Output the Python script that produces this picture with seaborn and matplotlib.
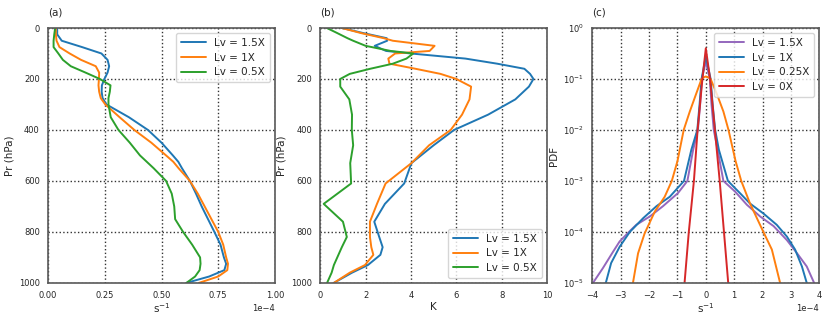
import numpy as np
import pandas as pd
import matplotlib
matplotlib.use("Agg")
import matplotlib.pyplot as plt
import seaborn as sns

# ---- panel (a): profiles (units of 1e-4 s^-1) ----
pres_a = [0, 25, 50, 75, 100, 125, 150, 175, 200, 225, 250, 275, 300, 350, 400,
          450, 500, 525, 550, 600, 650, 700, 750, 800, 850, 900, 925, 950, 975, 1000]
a_15 = [0.04, 0.04, 0.06, 0.15, 0.235, 0.262, 0.269, 0.262, 0.248, 0.237, 0.236, 0.24, 0.257,
        0.356, 0.44, 0.50, 0.55, 0.574, 0.59, 0.625, 0.652, 0.677, 0.705, 0.733, 0.76, 0.775,
        0.785, 0.777, 0.71, 0.61]
a_10 = [0.034, 0.034, 0.037, 0.05, 0.095, 0.145, 0.21, 0.225, 0.224, 0.222, 0.225, 0.232, 0.252,
        0.315, 0.38, 0.455, 0.52, 0.552, 0.575, 0.625, 0.66, 0.69, 0.72, 0.75, 0.772, 0.785,
        0.793, 0.79, 0.75, 0.665]
a_05 = [0.031, 0.027, 0.024, 0.024, 0.045, 0.065, 0.10, 0.165, 0.228, 0.275, 0.272, 0.266, 0.266,
        0.276, 0.31, 0.36, 0.405, 0.435, 0.465, 0.52, 0.545, 0.556, 0.56, 0.595, 0.635, 0.67,
        0.672, 0.668, 0.648, 0.61]

# ---- panel (b): profiles (K) ----
pres_b = [0, 20, 40, 50, 70, 90, 100, 120, 140, 160, 180, 200, 230, 280, 340, 400, 460,
          530, 610, 690, 760, 820, 860, 890, 930, 960, 1000]
b_15 = [0.95, 1.9, 2.93, 2.95, 2.4, 2.9, 4.0, 6.4, 7.8, 9.0, 9.25, 9.4, 9.2, 8.6, 7.4, 5.9, 5.0,
        4.02, 3.7, 2.85, 2.38, 2.6, 2.75, 2.65, 2.1, 1.4, 0.6]
b_10 = [0.95, 1.8, 2.8, 3.2, 5.04, 4.82, 3.3, 3.0, 3.05, 4.2, 5.3, 6.0, 6.65, 6.58, 6.25, 5.75,
        4.8, 4.02, 2.88, 2.5, 2.19, 2.19, 2.25, 2.34, 1.97, 1.3, 0.6]
b_05 = [0.29, 0.75, 1.2, 1.45, 2.0, 3.1, 4.1, 3.8, 3.2, 2.2, 1.3, 0.88, 0.88, 1.28, 1.4, 1.39,
        1.45, 1.32, 1.36, 0.15, 1.0, 1.17, 0.95, 0.8, 0.6, 0.5, 0.3]

# ---- panel (c): PDFs (x in units of 1e-4 s^-1) ----
c15_x = [-3.98, -3.63, -3.27, -3.04, -2.71, -2.45, -1.98, -1.51, -0.98, -0.65, -0.45, -0.28, -0.2,
         -0.14, 0.0, 0.14, 0.2, 0.28, 0.42, 0.62, 1.03, 1.45, 1.92, 2.39, 2.86, 3.22, 3.56, 3.82]
c15_y = [1e-5, 1.95e-5, 4.1e-5, 6.5e-5, 1e-4, 1.38e-4, 2e-4, 3.2e-4, 5.8e-4, 1e-3, 4e-3, 1e-2,
         3.2e-2, 0.1, 0.22, 0.1, 3.2e-2, 1e-2, 4e-3, 1e-3, 6.2e-4, 3.4e-4, 2e-4, 1.3e-4,
         6.9e-5, 3.8e-5, 2.1e-5, 1e-5]
c10_x = [-3.55, -3.34, -3.04, -2.68, -2.21, -1.74, -1.27, -0.77, -0.51, -0.3, -0.22, -0.15, 0.0,
         0.17, 0.24, 0.33, 0.46, 0.78, 1.2, 1.56, 2.03, 2.5, 2.86, 3.15, 3.39, 3.56]
c10_y = [9e-6, 2.45e-5, 5.1e-5, 1e-4, 1.86e-4, 3.2e-4, 4.9e-4, 1e-3, 4.1e-3, 1e-2, 3.2e-2, 0.1,
         0.28, 0.1, 3.2e-2, 1e-2, 4.1e-3, 1e-3, 5.8e-4, 3.6e-4, 2.3e-4, 1.38e-4, 8.1e-5,
         4.5e-5, 2.1e-5, 1e-5]
c025_x = [-2.57, -2.39, -2.16, -1.8, -1.45, -1.2, -1.0, -0.78, -0.565, -0.353, -0.15, -0.07, 0.0,
          0.08, 0.17, 0.4, 0.62, 0.8, 1.05, 1.25, 1.56, 2.03, 2.33, 2.62]
c025_y = [1e-5, 3.8e-5, 9.3e-5, 2.5e-4, 4.9e-4, 1e-3, 2.45e-3, 1e-2, 2.3e-2, 4.9e-2, 0.1, 0.108,
          0.112, 0.108, 0.1, 4.9e-2, 2.3e-2, 1e-2, 2.45e-3, 1e-3, 3.6e-4, 1e-4, 4.5e-5, 1e-5]
c0_x = [-0.75, -0.6, -0.42, -0.29, -0.12, 0.0, 0.15, 0.32, 0.49, 0.64, 0.79]
c0_y = [1e-5, 1e-4, 1e-3, 1e-2, 0.1, 0.4, 0.1, 1e-2, 1e-3, 1e-4, 1e-5]

labels_ab = ["Lv = 1.5X", "Lv = 1X", "Lv = 0.5X"]
labels_c = ["Lv = 1.5X", "Lv = 1X", "Lv = 0.25X", "Lv = 0X"]
tab = sns.color_palette("tab10")
blue, orange, green, red, purple = tab[0], tab[1], tab[2], tab[3], tab[4]

df_a = pd.concat([pd.DataFrame({"x": np.array(v) * 1e-4, "p": pres_a, "case": l})
                  for v, l in zip([a_15, a_10, a_05], labels_ab)])
df_b = pd.concat([pd.DataFrame({"x": v, "p": pres_b, "case": l})
                  for v, l in zip([b_15, b_10, b_05], labels_ab)])
df_c = pd.concat([pd.DataFrame({"x": np.array(xs) * 1e-4, "pdf": ys, "case": l})
                  for xs, ys, l in zip([c15_x, c10_x, c025_x, c0_x],
                                       [c15_y, c10_y, c025_y, c0_y], labels_c)])

sns.set_style("white", {"axes.edgecolor": "0.35", "grid.color": "0.2", "grid.linestyle": ":",
                        "axes.grid": True, "text.color": "0.15", "axes.labelcolor": "0.15",
                        "xtick.color": "0.15", "ytick.color": "0.15"})
plt.rcParams["font.family"] = ["DejaVu Sans"]
plt.rcParams["grid.linewidth"] = 1.0

LEG = dict(fontsize=7.5, handlelength=2.4, borderpad=0.45, labelspacing=0.45, edgecolor="0.8")

fig, axes = plt.subplots(1, 3, figsize=(8.3, 3.2), dpi=100)
fig.subplots_adjust(left=0.058, right=0.987, bottom=0.116, top=0.9125, wspace=0.2)

ax = axes[0]
sns.lineplot(data=df_a, x="x", y="p", hue="case", orient="y", estimator=None,
             palette=[blue, orange, green], lw=1.4, ax=ax)
ax.set_xlim(0, 1e-4)
ax.set_xticks(np.arange(0, 1.01, 0.25) * 1e-4)
ax.ticklabel_format(axis="x", style="sci", scilimits=(0, 0))
ax.legend(loc="upper right", **LEG)
ax.set_title("(a)", loc="left", fontsize=7.5, pad=9)

ax = axes[1]
sns.lineplot(data=df_b, x="x", y="p", hue="case", orient="y", estimator=None,
             palette=[blue, orange, green], lw=1.4, ax=ax)
ax.set_xlim(0, 10)
ax.set_xticks(range(0, 11, 2))
ax.legend(loc="lower right", **LEG)
ax.set_title("(b)", loc="left", fontsize=7.5, pad=9)

for ax, xl in zip(axes[:2], ["s$^{-1}$", "K"]):
    ax.set_ylim(1000, 0)
    ax.set_yticks(range(0, 1001, 200))
    ax.set_ylabel("Pr (hPa)", fontsize=7.5, labelpad=3)
    ax.set_xlabel(xl, fontsize=7.5, labelpad=1)

ax = axes[2]
sns.lineplot(data=df_c, x="x", y="pdf", hue="case", sort=False, estimator=None,
             palette=[purple, blue, orange, red], lw=1.4, ax=ax)
ax.set_yscale("log")
ax.set_ylim(1e-5, 1)
ax.set_xlim(-4e-4, 4e-4)
ax.set_xticks(np.arange(-4, 5) * 1e-4)
ax.ticklabel_format(axis="x", style="sci", scilimits=(0, 0))
ax.minorticks_off()
ax.legend(loc="upper right", **LEG)
ax.set_title("(c)", loc="left", fontsize=7.5, pad=9)
ax.set_ylabel("PDF", fontsize=7.5, labelpad=3)
ax.set_xlabel("s$^{-1}$", fontsize=7.5, labelpad=1)

for ax in axes:
    ax.tick_params(labelsize=6, pad=2.5)
    ax.xaxis.get_offset_text().set_fontsize(6)
    for s in ax.spines.values():
        s.set_linewidth(1.2)

fig.savefig("out.png", dpi=100)
